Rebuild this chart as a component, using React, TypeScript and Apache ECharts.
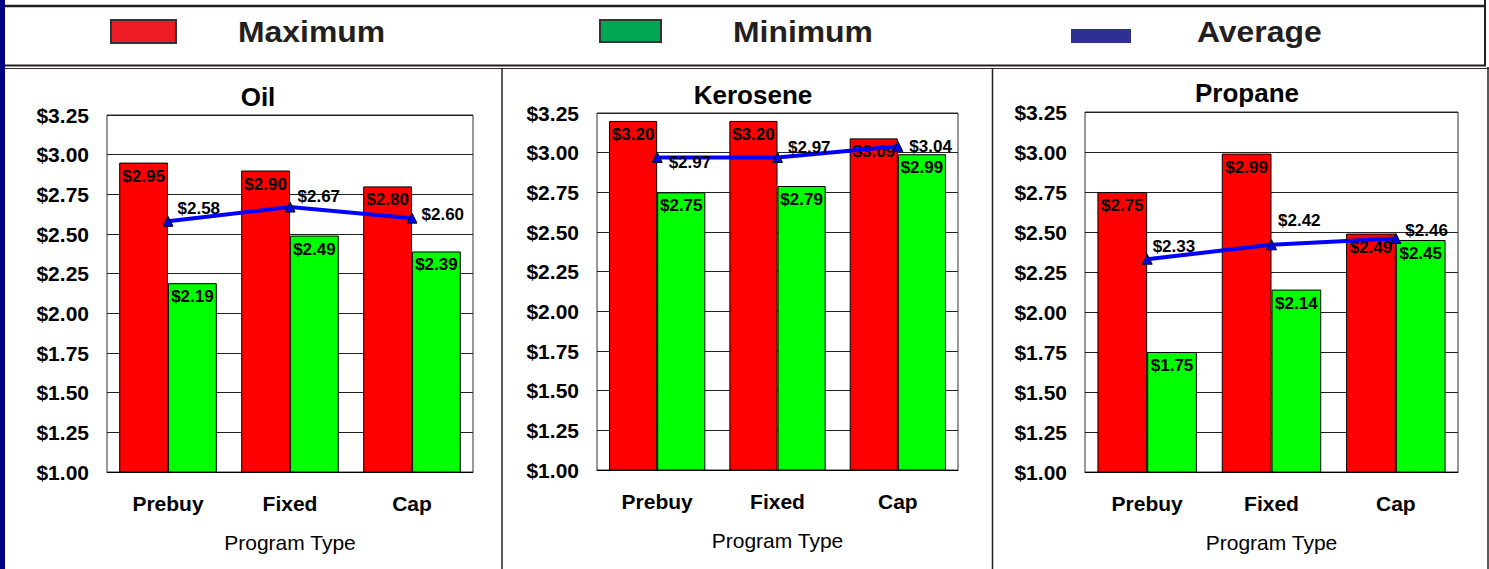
import React, { useEffect, useRef } from "react";
import * as echarts from "echarts";

const categories = ["Prebuy", "Fixed", "Cap"];
const panelTitles = ["Oil", "Kerosene", "Propane"];

const oilMax = [2.95, 2.9, 2.8];
const oilMin = [2.19, 2.49, 2.39];
const oilAvg = [2.58, 2.67, 2.6];

const keroseneMax = [3.2, 3.2, 3.09];
const keroseneMin = [2.75, 2.79, 2.99];
const keroseneAvg = [2.97, 2.97, 3.04];

const propaneMax = [2.75, 2.99, 2.49];
const propaneMin = [1.75, 2.14, 2.45];
const propaneAvg = [2.33, 2.42, 2.46];

const yMin = 1.0;
const yMax = 3.25;
const yStep = 0.25;

const legendNames = ["Maximum", "Minimum", "Average"];
const axisName = "Program Type";

const FONT = "'Liberation Sans', Arial, sans-serif";

export default function App() {
  const ref = useRef<HTMLDivElement>(null);

  useEffect(() => {
    if (!ref.current) return;
    const chart = echarts.init(ref.current, null, { renderer: "svg" });

    const maxes = [oilMax, keroseneMax, propaneMax];
    const mins = [oilMin, keroseneMin, propaneMin];
    const avgs = [oilAvg, keroseneAvg, propaneAvg];

    // layout (style only)
    const grids = [
      { left: 107, top: 115, width: 366, height: 357 },
      { left: 597, top: 113, width: 361, height: 357 },
      { left: 1085, top: 112, width: 373, height: 360 },
    ];
    const titlePos = [
      { x: 258, y: 97 },
      { x: 753, y: 95 },
      { x: 1247, y: 93 },
    ];
    const avgLabelOffsets = [
      [[-1, -13], [-3, -11], [-1, -4]],
      [[1, 5], [0, -10], [1, 0]],
      [[-5, -13], [-4, -24], [-1, -8]],
    ];

    const money = (v: number) => "$" + v.toFixed(2);

    const series: any[] = [];
    for (let i = 0; i < 3; i++) {
      series.push({
        type: "bar",
        name: legendNames[0],
        xAxisIndex: i,
        yAxisIndex: i,
        data: maxes[i],
        barGap: "0%",
        barCategoryGap: "20%",
        itemStyle: { color: "#FF0000", borderColor: "#000", borderWidth: 1 },
        label: {
          show: true,
          position: "insideTop",
          distance: 5,
          formatter: (p: any) => money(p.value),
          color: "#000",
          fontFamily: FONT,
          fontWeight: "bold",
          fontSize: 17,
        },
      });
      series.push({
        type: "bar",
        name: legendNames[1],
        xAxisIndex: i,
        yAxisIndex: i,
        data: mins[i],
        barGap: "0%",
        barCategoryGap: "20%",
        itemStyle: { color: "#00FF00", borderColor: "#000", borderWidth: 1 },
        label: {
          show: true,
          position: "insideTop",
          distance: 5,
          formatter: (p: any) => money(p.value),
          color: "#000",
          fontFamily: FONT,
          fontWeight: "bold",
          fontSize: 17,
        },
      });
      series.push({
        type: "line",
        name: legendNames[2],
        xAxisIndex: i,
        yAxisIndex: i,
        z: 5,
        data: avgs[i].map((v, j) => ({
          value: v,
          label: { offset: avgLabelOffsets[i][j] },
        })),
        lineStyle: { color: "#0000FF", width: 4 },
        symbol: "triangle",
        symbolSize: 10,
        itemStyle: { color: "#0000EE", borderColor: "#000", borderWidth: 1 },
        label: {
          show: true,
          position: "right",
          formatter: (p: any) => money(p.value),
          color: "#000",
          fontFamily: FONT,
          fontWeight: "bold",
          fontSize: 17,
        },
      });
    }

    const graphic: any[] = [
      { type: "rect", shape: { x: 0, y: 0, width: 5, height: 569 }, style: { fill: "#000080" }, z: 10 },
      // legend box
      { type: "line", shape: { x1: 5, y1: 6, x2: 1486, y2: 6 }, style: { stroke: "#231F20", lineWidth: 2.5 } },
      { type: "line", shape: { x1: 5, y1: 65.5, x2: 1486, y2: 65.5 }, style: { stroke: "#231F20", lineWidth: 2 } },
      { type: "line", shape: { x1: 1485, y1: 0, x2: 1485, y2: 66 }, style: { stroke: "#231F20", lineWidth: 2 } },
      // panels
      { type: "line", shape: { x1: 5, y1: 68.5, x2: 1489, y2: 68.5 }, style: { stroke: "#333", lineWidth: 1 } },
      { type: "line", shape: { x1: 502, y1: 68, x2: 502, y2: 569 }, style: { stroke: "#222", lineWidth: 1.5 } },
      { type: "line", shape: { x1: 992.5, y1: 68, x2: 992.5, y2: 569 }, style: { stroke: "#222", lineWidth: 1.5 } },
      { type: "line", shape: { x1: 1488, y1: 67, x2: 1488, y2: 569 }, style: { stroke: "#222", lineWidth: 1.5 } },
      // legend items
      { type: "rect", shape: { x: 111, y: 20, width: 65, height: 23 }, style: { fill: "#ED1C24", stroke: "#333", lineWidth: 2 } },
      { type: "rect", shape: { x: 600, y: 20, width: 61, height: 22 }, style: { fill: "#00A651", stroke: "#333", lineWidth: 2 } },
      { type: "rect", shape: { x: 1071, y: 29, width: 60, height: 14 }, style: { fill: "#2E3192" } },
      ...[238, 733, 1197].map((x, k) => ({
        type: "text",
        x,
        y: 32,
        scaleX: 1.1,
        style: {
          text: legendNames[k],
          fill: "#231F20",
          font: `bold 29px ${FONT}`,
          textVerticalAlign: "middle",
          textAlign: "left",
        },
      })),
      ...titlePos.map((p, k) => ({
        type: "text",
        x: p.x,
        y: p.y,
        style: {
          text: panelTitles[k],
          fill: "#000",
          font: `bold 26px ${FONT}`,
          textVerticalAlign: "middle",
          textAlign: "center",
        },
      })),
    ];

    chart.setOption({
      animation: false,
      backgroundColor: "#fff",
      grid: grids.map((g) => ({ ...g, show: true, borderColor: "#333", borderWidth: 1, backgroundColor: "transparent" })),
      xAxis: grids.map((_, i) => ({
        type: "category",
        gridIndex: i,
        data: categories,
        axisTick: { show: false },
        axisLine: { lineStyle: { color: "#000", width: 1 } },
        axisLabel: { color: "#000", fontFamily: FONT, fontWeight: "bold", fontSize: 21, margin: 21 },
        name: axisName,
        nameLocation: "middle",
        nameGap: 60,
        nameTextStyle: { color: "#000", fontFamily: FONT, fontSize: 21 },
      })),
      yAxis: grids.map((_, i) => ({
        type: "value",
        gridIndex: i,
        min: yMin,
        max: yMax,
        interval: yStep,
        axisLine: { show: false },
        axisTick: { show: false },
        splitLine: { lineStyle: { color: "#222", width: 1 } },
        axisLabel: {
          color: "#000",
          fontFamily: FONT,
          fontWeight: "bold",
          fontSize: 21,
          margin: 18,
          formatter: (v: number) => "$" + v.toFixed(2),
        },
      })),
      series,
      graphic,
    });

    return () => chart.dispose();
  }, []);

  return (
    <div
      ref={ref}
      style={{ position: "fixed", left: 0, top: 0, width: 1489, height: 569, background: "#fff" }}
    />
  );
}
